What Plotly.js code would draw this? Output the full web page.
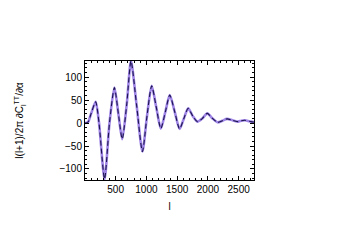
<!DOCTYPE html>
<html>
<head>
<meta charset="utf-8">
<script src="https://cdn.plot.ly/plotly-3.0.1.min.js"></script>
<style>html,body{margin:0;padding:0;background:#fff;}#plot{width:340px;height:243px;}</style>
</head>
<body>
<div id="plot"></div>
<script>
// multipole l
var ell = [2, 50, 100, 175, 230, 320, 400, 480, 545, 607, 680, 750, 840, 936, 1010, 1086, 1160, 1235, 1310, 1380, 1460, 1540, 1610, 1680, 1755, 1830, 1910, 1990, 2075, 2160, 2235, 2310, 2400, 2490, 2545, 2600, 2700, 2750];
// l(l+1)/2pi dC_l^TT/dalpha
var dCl = [0, 2, 20, 46, 0, -122, 0, 77, 20, -35, 40, 135, 40, -62, 15, 81, 35, -12, 25, 61, 25, -13, 10, 32, 15, 3, 10, 21, 10, 1.5, 5, 9, 6, 3, 5, 6, 3, 2];
var xTickVals = [500, 1000, 1500, 2000, 2500];
var yTickVals = [-100, -50, 0, 50, 100];

var traces = [
  {x: ell, y: dCl, mode: 'lines', line: {color: '#9f85e6', width: 2.6, shape: 'spline', smoothing: 0.7}, hoverinfo: 'skip'},
  {x: ell, y: dCl, mode: 'lines', line: {color: '#1c1450', width: 1.1, dash: '5px,3px', shape: 'spline', smoothing: 0.7}, hoverinfo: 'skip'}
];
var fnt = {family: 'Liberation Sans, Arial, sans-serif', size: 10, color: '#000'};
var layout = {
  width: 340, height: 243,
  margin: {l: 84.5, r: 86, t: 61, b: 63},
  paper_bgcolor: '#fff', plot_bgcolor: '#fff',
  showlegend: false,
  font: fnt,
  xaxis: {
    range: [2, 2750], tickvals: xTickVals, ticks: 'inside', ticklen: 4, tickcolor: '#000',
    minor: {dtick: 100, ticks: 'inside', ticklen: 2, tickcolor: '#000'},
    showline: true, linecolor: '#000', linewidth: 1, mirror: 'ticks',
    showgrid: false, zeroline: false, tickfont: fnt, automargin: true,
    title: {text: 'l', font: fnt, standoff: 8}
  },
  yaxis: {
    range: [-124, 135], tickvals: yTickVals, ticks: 'inside', ticklen: 4, tickcolor: '#000',
    minor: {dtick: 10, ticks: 'inside', ticklen: 2, tickcolor: '#000'},
    showline: true, linecolor: '#000', linewidth: 1, mirror: 'ticks',
    showgrid: false, zeroline: false, tickfont: fnt, automargin: true,
    title: {text: 'l(l+1)/2π ∂C<sub>l</sub><sup>TT</sup>/∂α', font: fnt, standoff: 33}
  }
};
Plotly.newPlot('plot', traces, layout, {staticPlot: true, displayModeBar: false});
</script>
</body>
</html>
